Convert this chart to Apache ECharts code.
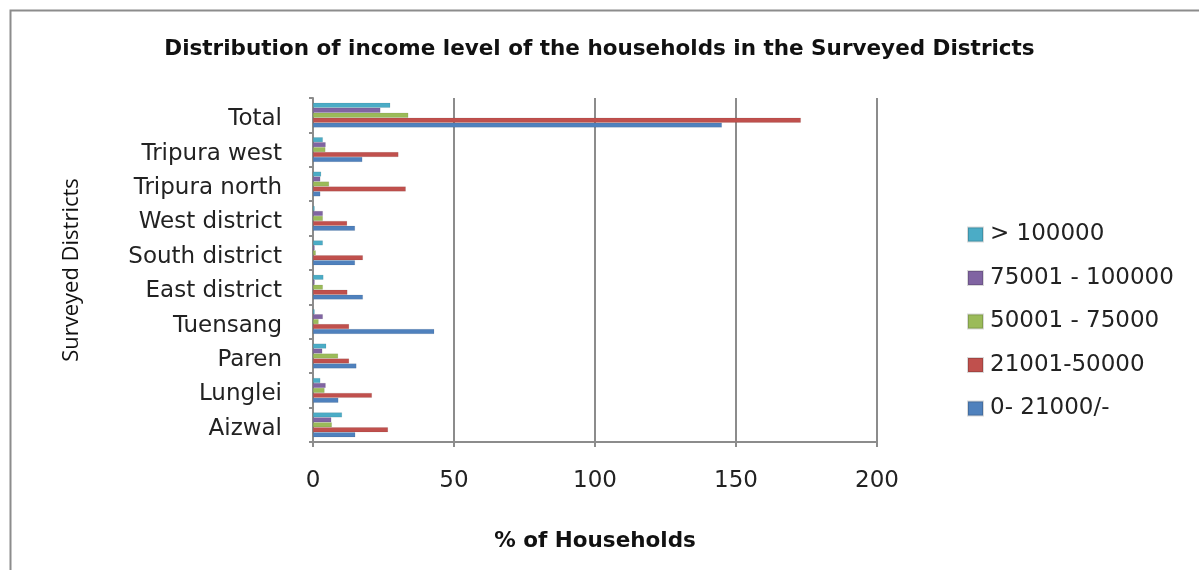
<!DOCTYPE html>
<html><head><meta charset="utf-8">
<script src="https://cdn.jsdelivr.net/npm/echarts@6/dist/echarts.min.js"></script>
<style>html,body{margin:0;padding:0;background:#fff}#c{width:1199px;height:570px}</style>
</head><body><div id="c"></div>
<script>
const categories = ['Aizwal','Lunglei','Paren','Tuensang','East district','South district','West district','Tripura north','Tripura west','Total'];
const s0to21000 = [15, 9, 15.4, 43, 17.7, 14.9, 14.9, 2.6, 17.5, 145];
const s21001to50000 = [26.6, 20.9, 12.8, 12.8, 12.2, 17.7, 12.1, 32.9, 30.3, 173];
const s50001to75000 = [6.7, 4.1, 8.9, 2, 3.5, 1, 3.5, 5.7, 4.4, 33.8];
const s75001to100000 = [6.5, 4.5, 3.3, 3.5, 0.6, 0.6, 3.5, 2.6, 4.5, 23.9];
const sOver100000 = [10.3, 2.6, 4.7, 0.6, 3.7, 3.5, 0.6, 2.9, 3.5, 27.4];
const xTicks = [0, 50, 100, 150, 200];
// top-to-bottom order within each category group (and legend order)
const seriesNames = ['> 100000', '75001 - 100000', '50001 - 75000', '21001-50000', '0- 21000/-'];
const colors = ['#4BACC6', '#8064A2', '#9BBB59', '#C0504D', '#4F81BD'];
const values = [sOver100000, s75001to100000, s50001to75000, s21001to50000, s0to21000];

const chart = echarts.init(document.getElementById('c'));
const font = 'DejaVu Sans';
chart.setOption({
  animation: false,
  title: {
    text: 'Distribution of income level of the households in the Surveyed Districts',
    left: 'center', top: 33,
    textStyle: { fontFamily: font, fontWeight: 'bold', fontSize: 21.5, color: '#111' }
  },
  legend: {
    orient: 'vertical', left: 962, top: 218,
    data: seriesNames,
    itemWidth: 15, itemHeight: 14, itemGap: 20.5,
    icon: 'rect',
    textStyle: { fontFamily: font, fontSize: 23, color: '#222', padding: [0,0,0,2] }
  },
  grid: { left: 313, right: 322, top: 98, bottom: 128, containLabel: false },
  xAxis: {
    type: 'value', min: xTicks[0], max: xTicks[xTicks.length-1], interval: 50,
    name: '% of Households', nameLocation: 'middle', nameGap: 88,
    nameTextStyle: { fontFamily: font, fontWeight: 'bold', fontSize: 21.5, color: '#111' },
    axisLine: { show: true, lineStyle: { color: '#8c8c8c', width: 2 } },
    axisTick: { show: true, length: 5, lineStyle: { color: '#8c8c8c', width: 2 } },
    axisLabel: { margin: 28, fontFamily: font, fontSize: 23, color: '#222' },
    splitLine: { show: true, lineStyle: { color: '#8c8c8c', width: 2 } }
  },
  yAxis: {
    type: 'category', data: categories,
    name: 'Surveyed Districts', nameLocation: 'middle', nameGap: 230, nameRotate: 90,
    nameTextStyle: { fontFamily: 'Open Sans', fontSize: 22, color: '#111' },
    axisLine: { show: true, lineStyle: { color: '#8c8c8c', width: 2 } },
    axisTick: { show: true, length: 4, lineStyle: { color: '#8c8c8c', width: 2 } },
    axisLabel: {
      margin: 31, fontFamily: font, fontSize: 23, color: '#222',
      formatter: v => '{a|' + v + '}',
      rich: { a: { fontFamily: font, fontSize: 23, color: '#222', padding: [8, 0, 0, 0] } }
    }
  },
  series: values.map((v, i) => ({
    name: seriesNames[i], type: 'bar', data: v,
    barGap: '0%', barCategoryGap: '28%',
    itemStyle: { color: colors[i], borderColor: 'rgba(0,0,0,0.15)', borderWidth: 0.5 }
  })),
  graphic: [
    { type: 'polyline', shape: { points: [[10.5, 570], [10.5, 10.5], [1199, 10.5]] }, style: { stroke: '#8c8c8c', lineWidth: 2, fill: null } }
  ]
});
</script></body></html>
